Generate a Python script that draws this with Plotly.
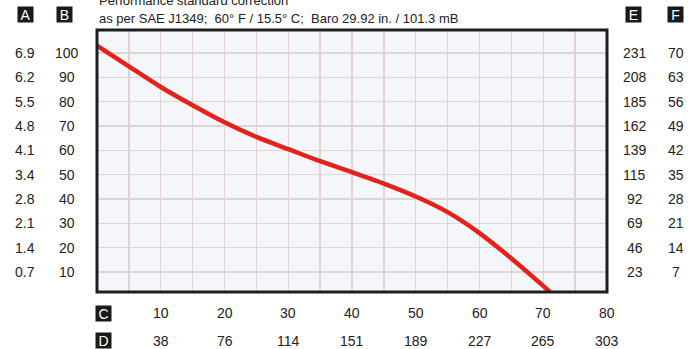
import plotly.graph_objects as go

# ---- data ----
curve_x = [0, 5, 10, 15, 20, 25, 30, 35, 40, 45, 50, 55, 60, 65, 70, 71.6]
curve_y = [103, 94.5, 86, 78.5, 71.5, 65.5, 60.5, 55.5, 51, 46.3, 41, 34.6, 26, 15.6, 4.3, 0.5]

y_vals = [100, 90, 80, 70, 60, 50, 40, 30, 20, 10]
col_a = ["6.9", "6.2", "5.5", "4.8", "4.1", "3.4", "2.8", "2.1", "1.4", "0.7"]
col_b = ["100", "90", "80", "70", "60", "50", "40", "30", "20", "10"]
col_e = ["231", "208", "185", "162", "139", "115", "92", "69", "46", "23"]
col_f = ["70", "63", "56", "49", "42", "35", "28", "21", "14", "7"]

x_vals = [10, 20, 30, 40, 50, 60, 70, 80]
row_c = ["10", "20", "30", "40", "50", "60", "70", "80"]
row_d = ["38", "76", "114", "151", "189", "227", "265", "303"]

title1 = "Performance standard correction"
title2 = "as per SAE J1349;\u00a0\u00a060° F / 15.5° C;\u00a0\u00a0Baro 29.92 in. / 101.3 mB"

FONT = "Liberation Sans, Arial, sans-serif"
TXT = "#222222"

fig = go.Figure()
fig.add_trace(go.Scatter(
    x=curve_x, y=curve_y, mode="lines",
    line=dict(color="#e3231b", width=4.5, shape="spline", smoothing=0.8),
    hoverinfo="skip", showlegend=False,
))

ann = []

def col_labels(labels, xp):
    for v, t in zip(y_vals, labels):
        ann.append(dict(x=xp, y=v, xref="paper", yref="y", text=t, showarrow=False,
                        xanchor="center", yanchor="middle",
                        font=dict(family=FONT, size=14, color=TXT)))

col_labels(col_a, -0.1412)
col_labels(col_b, -0.0588)
col_labels(col_e, 1.0549)
col_labels(col_f, 1.1353)

def row_labels(labels, yp):
    for v, t in zip(x_vals, labels):
        ann.append(dict(x=v, y=yp, xref="x", yref="paper", text=t, showarrow=False,
                        xanchor="center", yanchor="middle",
                        font=dict(family=FONT, size=14, color=TXT)))

row_labels(row_c, -0.0802)
row_labels(row_d, -0.187)

def box(letter, xp, yp):
    ann.append(dict(x=xp, y=yp, xref="paper", yref="paper", text=letter, showarrow=False,
                    xanchor="center", yanchor="middle", bgcolor="#1a1a1a",
                    width=15, height=15, borderpad=0,
                    font=dict(family=FONT, size=14, color="white")))

box("A", (25 - 97) / 510, 1.0573)
box("B", (64.5 - 97) / 510, 1.0573)
box("E", (633.5 - 97) / 510, 1.0573)
box("F", (675 - 97) / 510, 1.0573)
box("C", (103.5 - 97) / 510, -0.0802)
box("D", (103.5 - 97) / 510, -0.187)

ann.append(dict(x=0, y=1.1107, xref="paper", yref="paper", text=title1, showarrow=False,
                xanchor="left", yanchor="middle", font=dict(family=FONT, size=13, color=TXT)))
ann.append(dict(x=0, y=1.0458, xref="paper", yref="paper", text=title2, showarrow=False,
                xanchor="left", yanchor="middle", font=dict(family=FONT, size=13, color=TXT)))

fig.update_layout(
    width=697, height=349,
    margin=dict(l=97, r=90, t=30, b=57),
    paper_bgcolor="white",
    plot_bgcolor="#f4f6f9",
    annotations=ann,
    shapes=[dict(type="rect", xref="paper", yref="paper", x0=0, x1=1, y0=0, y1=1,
                 line=dict(color="#1e1e1e", width=3), layer="above")],
    xaxis=dict(range=[0, 80], tick0=0, dtick=5, showticklabels=False, showgrid=True,
               gridcolor="#ddd4d4", gridwidth=1.3, zeroline=False, showline=False, ticks=""),
    yaxis=dict(range=[1.8, 109.4], tick0=0, dtick=10, showticklabels=False, showgrid=True,
               gridcolor="#ddd4d4", gridwidth=1.3, zeroline=False, showline=False, ticks=""),
)

fig.write_html("out.html",
               config={"displayModeBar": False, "staticPlot": True},
               post_script="document.body.style.margin='0px';document.body.style.padding='0px';")
